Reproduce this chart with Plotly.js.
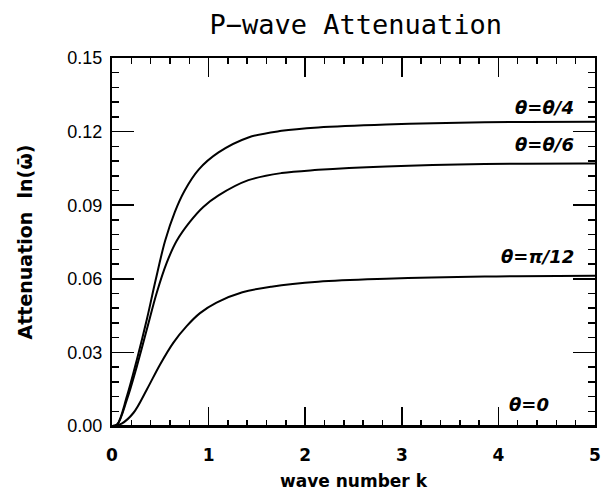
<!DOCTYPE html>
<html>
<head>
<meta charset="utf-8">
<script src="https://cdn.plot.ly/plotly-3.0.1.min.js"></script>
<style>html,body{margin:0;padding:0;background:#fff;}#chart{width:602px;height:491px;}</style>
</head>
<body>
<div id="chart"></div>
<script>
// wave number k and attenuation values
var kQuarter = [0, 0.052, 0.155, 0.258, 0.361, 0.45, 0.55, 0.65, 0.75, 0.897, 1.103, 1.412, 1.756, 2.134, 2.837, 3.857, 5];
var attQuarter = [0, 0.0006, 0.0122, 0.0271, 0.0435, 0.0592, 0.0755, 0.0872, 0.0958, 0.1045, 0.1115, 0.1176, 0.1203, 0.1217, 0.1229, 0.1238, 0.1240];

var kSixth = [0, 0.052, 0.155, 0.258, 0.361, 0.464, 0.567, 0.670, 0.808, 0.945, 1.103, 1.412, 1.756, 2.134, 2.837, 3.857, 5];
var attSixth = [0, 0.0005, 0.0108, 0.0244, 0.0394, 0.0544, 0.0666, 0.0755, 0.0833, 0.0893, 0.0940, 0.1002, 0.1031, 0.1044, 0.1058, 0.1068, 0.1070];

var kTwelfth = [0, 0.1, 0.223, 0.361, 0.498, 0.636, 0.773, 0.911, 1.082, 1.35, 1.65, 2.134, 2.837, 3.857, 5];
var attTwelfth = [0, 0.001, 0.0054, 0.0149, 0.0251, 0.0340, 0.0407, 0.0460, 0.0503, 0.0545, 0.0568, 0.0588, 0.0600, 0.0609, 0.0612];

var kZero = [0, 5];
var attZero = [0, 0];

var curveLabels = ['\u03b8=\u03b8/4', '\u03b8=\u03b8/6', '\u03b8=\u03c0/12', '\u03b8=0'];
var labelX = [4.8, 4.8, 4.8, 4.54];
var labelY = [0.1300, 0.1147, 0.0690, 0.0086];

var yTickVals = [0, 0.03, 0.06, 0.09, 0.12, 0.15];
var yTickText = ['0.00', '0.03', '0.06', '0.09', '0.12', '0.15'];
var xTickVals = [0, 1, 2, 3, 4, 5];
var xTickText = ['0', '1', '2', '3', '4', '5'];

var lineStyle = {color: 'black', width: 2, shape: 'spline', smoothing: 1};
var traces = [
  {x: kQuarter, y: attQuarter, mode: 'lines', line: lineStyle, hoverinfo: 'skip'},
  {x: kSixth, y: attSixth, mode: 'lines', line: lineStyle, hoverinfo: 'skip'},
  {x: kTwelfth, y: attTwelfth, mode: 'lines', line: lineStyle, hoverinfo: 'skip'},
  {x: kZero, y: attZero, mode: 'lines', line: {color: 'black', width: 2}, hoverinfo: 'skip'}
];

var annotations = curveLabels.map(function (t, i) {
  return {x: labelX[i], y: labelY[i], xref: 'x', yref: 'y', text: t, showarrow: false,
    xanchor: 'right', yanchor: 'middle',
    font: {family: 'DejaVu Sans', size: 18, color: 'black', style: 'italic', weight: 'bold'}};
});

var layout = {
  width: 602, height: 491,
  margin: {l: 112, r: 7, t: 58, b: 65, pad: 0},
  paper_bgcolor: 'white', plot_bgcolor: 'white',
  showlegend: false,
  title: {text: 'P\u2212wave Attenuation', x: 0.591, xref: 'container', xanchor: 'center', y: 0.949, yref: 'container', yanchor: 'middle',
    font: {family: 'DejaVu Sans Mono', size: 27, color: 'black'}},
  xaxis: {
    range: [0, 5], tickmode: 'array', tickvals: xTickVals, ticktext: xTickText,
    ticks: 'inside', ticklen: 19, tickwidth: 1.5, tickcolor: 'black',
    minor: {tickmode: 'linear', tick0: 0, dtick: 0.2, ticks: 'inside', ticklen: 6, tickwidth: 1.5, tickcolor: 'black'},
    showline: true, linewidth: 2, linecolor: 'black', mirror: 'ticks',
    showgrid: false, zeroline: false,
    tickfont: {family: 'DejaVu Sans', size: 17, color: 'black', weight: 'bold'},
    ticklabelstandoff: 13,
    title: {text: 'wave number k', standoff: 13, font: {family: 'DejaVu Sans', size: 17, color: 'black', weight: 'bold'}}
  },
  yaxis: {
    range: [0, 0.15], tickmode: 'array', tickvals: yTickVals, ticktext: yTickText,
    ticks: 'inside', ticklen: 22, tickwidth: 1.5, tickcolor: 'black',
    minor: {tickmode: 'linear', tick0: 0, dtick: 0.006, ticks: 'inside', ticklen: 7, tickwidth: 1.5, tickcolor: 'black'},
    showline: true, linewidth: 2, linecolor: 'black', mirror: 'ticks',
    showgrid: false, zeroline: false,
    tickfont: {family: 'Liberation Sans', size: 18, color: 'black'},
    ticklabelstandoff: 4,
    title: {text: 'Attenuation  ln(\u03c9\u0304)', standoff: 30, font: {family: 'DejaVu Sans', size: 19, color: 'black', weight: 'bold'}}
  },
  annotations: annotations
};

Plotly.newPlot('chart', traces, layout, {displayModeBar: false, staticPlot: true});
</script>
</body>
</html>
